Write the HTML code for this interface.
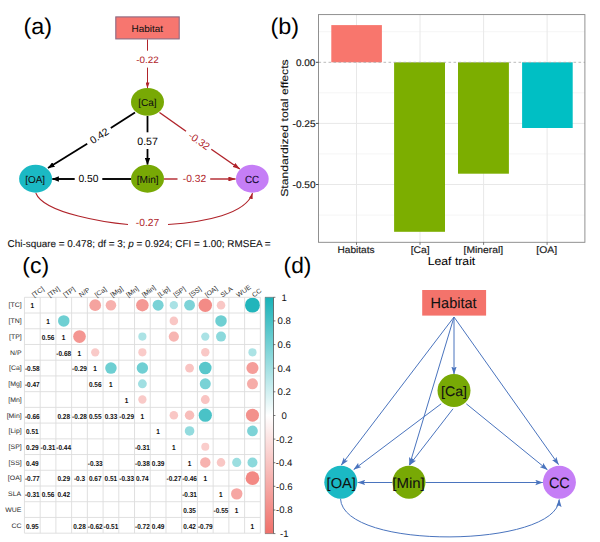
<!DOCTYPE html><html><head><meta charset="utf-8"><style>html,body{margin:0;padding:0;background:#fff;overflow:hidden}svg{display:block}text{font-family:"Liberation Sans",sans-serif;text-rendering:geometricPrecision}</style></head><body>
<svg width="600" height="542" viewBox="0 0 600 542">
<defs><marker id="mk" markerWidth="7" markerHeight="5.4" refX="6.6" refY="2.7" orient="auto" markerUnits="userSpaceOnUse"><path d="M0,0 L7,2.7 L0,5.4 z" fill="#000"/></marker><marker id="mr" markerWidth="7.5" markerHeight="4.8" refX="7.1" refY="2.4" orient="auto" markerUnits="userSpaceOnUse"><path d="M0,0 L7.5,2.4 L0,4.8 z" fill="#B0232A"/></marker><marker id="mr2" markerWidth="6" markerHeight="4" refX="5.8" refY="2" orient="auto" markerUnits="userSpaceOnUse"><path d="M0,0 L6,2 L0,4 z" fill="#B0232A"/></marker><marker id="mb" markerWidth="8" markerHeight="6" refX="7.5" refY="3" orient="auto" markerUnits="userSpaceOnUse"><path d="M0,0.3 L8,3 L0,5.7 L1.6,3 z" fill="#4A74BE"/></marker><linearGradient id="cb" x1="0" y1="0" x2="0" y2="1"><stop offset="0" stop-color="#19B2B8"/><stop offset="0.5" stop-color="#FFFFFF"/><stop offset="1" stop-color="#F0706A"/></linearGradient></defs>
<text x="23.55" y="34.29" font-size="22.64" fill="#000" stroke="#000" stroke-width="0" textLength="28.61" lengthAdjust="spacingAndGlyphs">(a)</text>
<rect x="115.8" y="16.9" width="63.4" height="22" fill="#F7766F" stroke="#8C6A82" stroke-width="1.1"/>
<text x="131.58" y="31.70" font-size="9.67" fill="#111" stroke="#111" stroke-width="0.05" textLength="31.50" lengthAdjust="spacingAndGlyphs">Habitat</text>
<line x1="147.5" y1="39.5" x2="147.5" y2="50.7" stroke="#B0232A" stroke-width="1"/>
<line x1="147.5" y1="67.6" x2="147.5" y2="88.2" stroke="#B0232A" stroke-width="1" marker-end="url(#mr2)"/>
<text x="136.17" y="63.31" font-size="9.32" fill="#B0242A" stroke="#B0242A" stroke-width="0" textLength="22.52" lengthAdjust="spacingAndGlyphs">-0.22</text>
<line x1="135" y1="112.5" x2="110.8" y2="128" stroke="#000" stroke-width="1.8"/>
<line x1="87.2" y1="143.8" x2="48" y2="168" stroke="#000" stroke-width="1.8" marker-end="url(#mk)"/>
<text x="-9.97" y="3.54" font-size="10.30" fill="#000" stroke="#000" stroke-width="0" textLength="20.05" lengthAdjust="spacingAndGlyphs" transform="translate(99.20,135.80) rotate(-32.5)">0.42</text>
<line x1="147.5" y1="116" x2="147.5" y2="132.3" stroke="#000" stroke-width="1.8"/>
<line x1="147.5" y1="149" x2="147.5" y2="164.6" stroke="#000" stroke-width="1.8" marker-end="url(#mk)"/>
<text x="-10.26" y="3.65" font-size="10.60" fill="#000" stroke="#000" stroke-width="0" textLength="20.63" lengthAdjust="spacingAndGlyphs" transform="translate(147.50,141.00) rotate(0)">0.57</text>
<line x1="131" y1="179" x2="102.3" y2="179" stroke="#000" stroke-width="1.9"/>
<line x1="74.7" y1="179" x2="52.3" y2="179" stroke="#000" stroke-width="1.9" marker-end="url(#mk)"/>
<text x="-10.03" y="3.54" font-size="10.30" fill="#000" stroke="#000" stroke-width="0" textLength="20.05" lengthAdjust="spacingAndGlyphs" transform="translate(88.40,178.60) rotate(0)">0.50</text>
<line x1="159.5" y1="112.5" x2="186" y2="131.2" stroke="#B0232A" stroke-width="1.4"/>
<line x1="211.3" y1="149.2" x2="239.8" y2="169" stroke="#B0232A" stroke-width="1.4" marker-end="url(#mr)"/>
<text x="-11.71" y="3.54" font-size="10.30" fill="#B0242A" stroke="#B0242A" stroke-width="0" textLength="23.48" lengthAdjust="spacingAndGlyphs" transform="translate(199.20,141.00) rotate(35)">-0.32</text>
<line x1="164" y1="179" x2="177.5" y2="179" stroke="#B0232A" stroke-width="1.4"/>
<line x1="210.2" y1="179" x2="235.5" y2="179" stroke="#B0232A" stroke-width="1.4" marker-end="url(#mr)"/>
<text x="-11.71" y="3.54" font-size="10.30" fill="#B0242A" stroke="#B0242A" stroke-width="0" textLength="23.48" lengthAdjust="spacingAndGlyphs" transform="translate(194.40,178.40) rotate(0)">-0.32</text>
<path d="M35.8,193 C44,214 110,223 128,224.5" fill="none" stroke="#B0232A" stroke-width="1.1"/>
<path d="M168,224.5 C205,222 246,214 252.5,193.2" fill="none" stroke="#B0232A" stroke-width="1.1" marker-end="url(#mr2)"/>
<text x="-11.71" y="3.54" font-size="10.30" fill="#B0242A" stroke="#B0242A" stroke-width="0" textLength="23.48" lengthAdjust="spacingAndGlyphs" transform="translate(147.50,222.30) rotate(0)">-0.27</text>
<ellipse cx="147.5" cy="101.9" rx="16.5" ry="13.9" fill="#78A905"/>
<text x="138.18" y="105.80" font-size="10.09" fill="#111" stroke="#111" stroke-width="0.05" textLength="18.45" lengthAdjust="spacingAndGlyphs">[Ca]</text>
<ellipse cx="35.6" cy="178.75" rx="16.5" ry="13.9" fill="#1BB9C4"/>
<text x="25.18" y="182.66" font-size="10.03" fill="#111" stroke="#111" stroke-width="0.05" textLength="19.94" lengthAdjust="spacingAndGlyphs">[OA]</text>
<ellipse cx="147.5" cy="178.75" rx="16.5" ry="13.9" fill="#78A905"/>
<text x="136.67" y="182.66" font-size="10.03" fill="#111" stroke="#111" stroke-width="0.05" textLength="21.95" lengthAdjust="spacingAndGlyphs">[Min]</text>
<ellipse cx="252.3" cy="178.75" rx="16.4" ry="13.9" fill="#C57EF6"/>
<text x="244.90" y="182.66" font-size="10.40" fill="#1A0E3A" stroke="#1A0E3A" stroke-width="0.18" textLength="14.38" lengthAdjust="spacingAndGlyphs">CC</text>
<text x="7.6" y="246.5" font-size="9.9" fill="#111" stroke="#111" stroke-width="0.1" textLength="263" lengthAdjust="spacingAndGlyphs">Chi-square = 0.478; df = 3; <tspan font-style="italic">p</tspan> = 0.924; CFI = 1.00; RMSEA =</text>
<text x="270.55" y="34.29" font-size="22.64" fill="#000" stroke="#000" stroke-width="0" textLength="28.61" lengthAdjust="spacingAndGlyphs">(b)</text>
<line x1="318.5" y1="31.7" x2="584.9" y2="31.7" stroke="#F2F2F2" stroke-width="0.8"/>
<line x1="318.5" y1="92.8" x2="584.9" y2="92.8" stroke="#F2F2F2" stroke-width="0.8"/>
<line x1="318.5" y1="153.9" x2="584.9" y2="153.9" stroke="#F2F2F2" stroke-width="0.8"/>
<line x1="318.5" y1="215.1" x2="584.9" y2="215.1" stroke="#F2F2F2" stroke-width="0.8"/>
<line x1="318.5" y1="123.4" x2="584.9" y2="123.4" stroke="#E8E8E8" stroke-width="1"/>
<line x1="318.5" y1="184.5" x2="584.9" y2="184.5" stroke="#E8E8E8" stroke-width="1"/>
<line x1="356.5" y1="14.6" x2="356.5" y2="242.3" stroke="#E8E8E8" stroke-width="1"/>
<line x1="420.0" y1="14.6" x2="420.0" y2="242.3" stroke="#E8E8E8" stroke-width="1"/>
<line x1="483.6" y1="14.6" x2="483.6" y2="242.3" stroke="#E8E8E8" stroke-width="1"/>
<line x1="547.1" y1="14.6" x2="547.1" y2="242.3" stroke="#E8E8E8" stroke-width="1"/>
<rect x="331.3" y="25.1" width="50.6" height="37.2" fill="#F8766D"/>
<rect x="394.1" y="62.3" width="50.9" height="169.5" fill="#7CAE00"/>
<rect x="458.0" y="62.3" width="50.9" height="111.4" fill="#7CAE00"/>
<rect x="522.1" y="62.3" width="50.6" height="65.7" fill="#00BFC4"/>
<line x1="318.5" y1="62.3" x2="584.9" y2="62.3" stroke="#A8A8A8" stroke-width="0.8" stroke-dasharray="2.6,2.4"/>
<rect x="318.5" y="14.6" width="266.4" height="227.7" fill="none" stroke="#858585" stroke-width="0.9"/>
<line x1="315.9" y1="62.3" x2="318.5" y2="62.3" stroke="#333" stroke-width="0.9"/>
<text x="296.00" y="65.60" font-size="9.60" fill="#1a1a1a" stroke="#1a1a1a" stroke-width="0.18" textLength="19.38" lengthAdjust="spacingAndGlyphs">0.00</text>
<line x1="315.9" y1="123.4" x2="318.5" y2="123.4" stroke="#333" stroke-width="0.9"/>
<text x="292.55" y="126.70" font-size="9.60" fill="#1a1a1a" stroke="#1a1a1a" stroke-width="0.18" textLength="23.06" lengthAdjust="spacingAndGlyphs">-0.25</text>
<line x1="315.9" y1="184.5" x2="318.5" y2="184.5" stroke="#333" stroke-width="0.9"/>
<text x="292.56" y="187.80" font-size="9.60" fill="#1a1a1a" stroke="#1a1a1a" stroke-width="0.18" textLength="23.02" lengthAdjust="spacingAndGlyphs">-0.50</text>
<line x1="356.5" y1="242.3" x2="356.5" y2="244.9" stroke="#555" stroke-width="0.8"/>
<text x="337.47" y="252.60" font-size="9.60" fill="#1a1a1a" stroke="#1a1a1a" stroke-width="0.18" textLength="37.10" lengthAdjust="spacingAndGlyphs">Habitats</text>
<line x1="420.0" y1="242.3" x2="420.0" y2="244.9" stroke="#555" stroke-width="0.8"/>
<text x="410.75" y="252.60" font-size="9.60" fill="#1a1a1a" stroke="#1a1a1a" stroke-width="0.18" textLength="18.99" lengthAdjust="spacingAndGlyphs">[Ca]</text>
<line x1="483.6" y1="242.3" x2="483.6" y2="244.9" stroke="#555" stroke-width="0.8"/>
<text x="463.56" y="252.60" font-size="9.60" fill="#1a1a1a" stroke="#1a1a1a" stroke-width="0.18" textLength="39.49" lengthAdjust="spacingAndGlyphs">[Mineral]</text>
<line x1="547.1" y1="242.3" x2="547.1" y2="244.9" stroke="#555" stroke-width="0.8"/>
<text x="536.36" y="252.60" font-size="9.60" fill="#1a1a1a" stroke="#1a1a1a" stroke-width="0.18" textLength="20.70" lengthAdjust="spacingAndGlyphs">[OA]</text>
<text x="427.70" y="264.90" font-size="11.46" fill="#000" stroke="#000" stroke-width="0.05" textLength="47.59" lengthAdjust="spacingAndGlyphs">Leaf trait</text>
<g transform="translate(288.1,196.8) rotate(-90)">
<text x="0" y="0" font-size="10.1" fill="#111" stroke="#111" stroke-width="0.12" textLength="137.5" lengthAdjust="spacingAndGlyphs">Standardized total effects</text>
</g>
<text x="22.27" y="273.08" font-size="22.21" fill="#000" stroke="#000" stroke-width="0" textLength="26.86" lengthAdjust="spacingAndGlyphs">(c)</text>
<circle cx="95.21" cy="305.16" r="5.86" fill="#F5A39F"/>
<circle cx="110.94" cy="305.16" r="5.28" fill="#F7B1AE"/>
<circle cx="142.39" cy="305.16" r="6.26" fill="#F49894"/>
<circle cx="158.11" cy="305.16" r="5.50" fill="#79D2D6"/>
<circle cx="173.84" cy="305.16" r="4.15" fill="#AAE2E5"/>
<circle cx="189.56" cy="305.16" r="5.39" fill="#7DD3D7"/>
<circle cx="205.29" cy="305.16" r="6.76" fill="#F38B86"/>
<circle cx="221.01" cy="305.16" r="4.29" fill="#F9C7C5"/>
<circle cx="252.46" cy="305.16" r="7.51" fill="#22B5BB"/>
<circle cx="63.76" cy="320.89" r="5.76" fill="#6ECFD2"/>
<circle cx="173.84" cy="320.89" r="4.29" fill="#F9C7C5"/>
<circle cx="221.01" cy="320.89" r="5.76" fill="#6ECFD2"/>
<circle cx="79.49" cy="336.61" r="6.35" fill="#F49692"/>
<circle cx="142.39" cy="336.61" r="4.07" fill="#ACE3E5"/>
<circle cx="173.84" cy="336.61" r="5.11" fill="#F7B5B2"/>
<circle cx="205.29" cy="336.61" r="4.15" fill="#AAE2E5"/>
<circle cx="221.01" cy="336.61" r="4.99" fill="#8CD9DC"/>
<circle cx="95.21" cy="352.34" r="4.15" fill="#F9CAC8"/>
<circle cx="142.39" cy="352.34" r="4.07" fill="#FACBC9"/>
<circle cx="205.29" cy="352.34" r="4.22" fill="#F9C8C6"/>
<circle cx="252.46" cy="352.34" r="4.07" fill="#ACE3E5"/>
<circle cx="110.94" cy="368.06" r="5.76" fill="#6ECFD2"/>
<circle cx="142.39" cy="368.06" r="5.71" fill="#70CFD3"/>
<circle cx="189.56" cy="368.06" r="4.42" fill="#F9C4C2"/>
<circle cx="205.29" cy="368.06" r="6.30" fill="#58C7CB"/>
<circle cx="252.46" cy="368.06" r="6.06" fill="#F59D99"/>
<circle cx="142.39" cy="383.79" r="4.42" fill="#A0DFE2"/>
<circle cx="205.29" cy="383.79" r="5.50" fill="#79D2D6"/>
<circle cx="252.46" cy="383.79" r="5.50" fill="#F6ACA8"/>
<circle cx="142.39" cy="399.51" r="4.15" fill="#F9CAC8"/>
<circle cx="205.29" cy="399.51" r="4.42" fill="#F9C4C2"/>
<circle cx="173.84" cy="415.24" r="4.29" fill="#F9C7C5"/>
<circle cx="189.56" cy="415.24" r="4.75" fill="#F8BDBA"/>
<circle cx="205.29" cy="415.24" r="6.62" fill="#4AC2C7"/>
<circle cx="252.46" cy="415.24" r="6.53" fill="#F3918C"/>
<circle cx="189.56" cy="430.96" r="4.81" fill="#93DBDE"/>
<circle cx="252.46" cy="430.96" r="5.39" fill="#7DD3D7"/>
<circle cx="205.29" cy="446.69" r="4.00" fill="#FACDCB"/>
<circle cx="205.29" cy="462.41" r="5.22" fill="#F7B2AF"/>
<circle cx="221.01" cy="462.41" r="4.29" fill="#F9C7C5"/>
<circle cx="236.74" cy="462.41" r="4.56" fill="#9CDEE0"/>
<circle cx="252.46" cy="462.41" r="4.99" fill="#8CD9DC"/>
<circle cx="252.46" cy="478.14" r="6.84" fill="#F38984"/>
<circle cx="236.74" cy="493.86" r="5.71" fill="#F6A6A3"/>
<path d="M24.45,297.3V533.17M24.45,297.30H260.32M40.17,297.3V533.17M24.45,313.03H260.32M55.90,297.3V533.17M24.45,328.75H260.32M71.62,297.3V533.17M24.45,344.48H260.32M87.35,297.3V533.17M24.45,360.20H260.32M103.08,297.3V533.17M24.45,375.93H260.32M118.80,297.3V533.17M24.45,391.65H260.32M134.53,297.3V533.17M24.45,407.38H260.32M150.25,297.3V533.17M24.45,423.10H260.32M165.97,297.3V533.17M24.45,438.83H260.32M181.70,297.3V533.17M24.45,454.55H260.32M197.42,297.3V533.17M24.45,470.27H260.32M213.15,297.3V533.17M24.45,486.00H260.32M228.87,297.3V533.17M24.45,501.73H260.32M244.60,297.3V533.17M24.45,517.45H260.32M260.32,297.3V533.17M24.45,533.17H260.32" stroke="#DDDDDD" stroke-width="0.9" fill="none"/>
<text x="-1.91" y="2.48" font-size="7.20" font-weight="bold" fill="#111" stroke="#111" stroke-width="0" textLength="3.60" lengthAdjust="spacingAndGlyphs" transform="translate(32.31,305.96) rotate(0)">1</text>
<text x="-1.91" y="2.48" font-size="7.20" font-weight="bold" fill="#111" stroke="#111" stroke-width="0" textLength="3.60" lengthAdjust="spacingAndGlyphs" transform="translate(48.04,321.69) rotate(0)">1</text>
<text x="-6.32" y="2.48" font-size="7.20" font-weight="bold" fill="#111" stroke="#111" stroke-width="0" textLength="12.61" lengthAdjust="spacingAndGlyphs" transform="translate(48.04,337.41) rotate(0)">0.56</text>
<text x="-1.91" y="2.48" font-size="7.20" font-weight="bold" fill="#111" stroke="#111" stroke-width="0" textLength="3.60" lengthAdjust="spacingAndGlyphs" transform="translate(63.76,337.41) rotate(0)">1</text>
<text x="-7.42" y="2.48" font-size="7.20" font-weight="bold" fill="#111" stroke="#111" stroke-width="0" textLength="14.77" lengthAdjust="spacingAndGlyphs" transform="translate(63.76,353.14) rotate(0)">-0.68</text>
<text x="-1.91" y="2.48" font-size="7.20" font-weight="bold" fill="#111" stroke="#111" stroke-width="0" textLength="3.60" lengthAdjust="spacingAndGlyphs" transform="translate(79.49,353.14) rotate(0)">1</text>
<text x="-7.42" y="2.48" font-size="7.20" font-weight="bold" fill="#111" stroke="#111" stroke-width="0" textLength="14.77" lengthAdjust="spacingAndGlyphs" transform="translate(32.31,368.86) rotate(0)">-0.58</text>
<text x="-7.40" y="2.48" font-size="7.20" font-weight="bold" fill="#111" stroke="#111" stroke-width="0" textLength="14.77" lengthAdjust="spacingAndGlyphs" transform="translate(79.49,368.86) rotate(0)">-0.29</text>
<text x="-1.91" y="2.48" font-size="7.20" font-weight="bold" fill="#111" stroke="#111" stroke-width="0" textLength="3.60" lengthAdjust="spacingAndGlyphs" transform="translate(95.21,368.86) rotate(0)">1</text>
<text x="-7.37" y="2.48" font-size="7.20" font-weight="bold" fill="#111" stroke="#111" stroke-width="0" textLength="14.77" lengthAdjust="spacingAndGlyphs" transform="translate(32.31,384.59) rotate(0)">-0.47</text>
<text x="-6.32" y="2.48" font-size="7.20" font-weight="bold" fill="#111" stroke="#111" stroke-width="0" textLength="12.61" lengthAdjust="spacingAndGlyphs" transform="translate(95.21,384.59) rotate(0)">0.56</text>
<text x="-1.91" y="2.48" font-size="7.20" font-weight="bold" fill="#111" stroke="#111" stroke-width="0" textLength="3.60" lengthAdjust="spacingAndGlyphs" transform="translate(110.94,384.59) rotate(0)">1</text>
<text x="-1.91" y="2.48" font-size="7.20" font-weight="bold" fill="#111" stroke="#111" stroke-width="0" textLength="3.60" lengthAdjust="spacingAndGlyphs" transform="translate(126.66,400.31) rotate(0)">1</text>
<text x="-7.40" y="2.48" font-size="7.20" font-weight="bold" fill="#111" stroke="#111" stroke-width="0" textLength="14.77" lengthAdjust="spacingAndGlyphs" transform="translate(32.31,416.04) rotate(0)">-0.66</text>
<text x="-6.34" y="2.48" font-size="7.20" font-weight="bold" fill="#111" stroke="#111" stroke-width="0" textLength="12.61" lengthAdjust="spacingAndGlyphs" transform="translate(63.76,416.04) rotate(0)">0.28</text>
<text x="-7.42" y="2.48" font-size="7.20" font-weight="bold" fill="#111" stroke="#111" stroke-width="0" textLength="14.77" lengthAdjust="spacingAndGlyphs" transform="translate(79.49,416.04) rotate(0)">-0.28</text>
<text x="-6.34" y="2.48" font-size="7.20" font-weight="bold" fill="#111" stroke="#111" stroke-width="0" textLength="12.61" lengthAdjust="spacingAndGlyphs" transform="translate(95.21,416.04) rotate(0)">0.55</text>
<text x="-6.32" y="2.47" font-size="7.20" font-weight="bold" fill="#111" stroke="#111" stroke-width="0" textLength="12.61" lengthAdjust="spacingAndGlyphs" transform="translate(110.94,416.04) rotate(0)">0.33</text>
<text x="-7.40" y="2.48" font-size="7.20" font-weight="bold" fill="#111" stroke="#111" stroke-width="0" textLength="14.77" lengthAdjust="spacingAndGlyphs" transform="translate(126.66,416.04) rotate(0)">-0.29</text>
<text x="-1.91" y="2.48" font-size="7.20" font-weight="bold" fill="#111" stroke="#111" stroke-width="0" textLength="3.60" lengthAdjust="spacingAndGlyphs" transform="translate(142.39,416.04) rotate(0)">1</text>
<text x="-6.34" y="2.48" font-size="7.20" font-weight="bold" fill="#111" stroke="#111" stroke-width="0" textLength="12.61" lengthAdjust="spacingAndGlyphs" transform="translate(32.31,431.76) rotate(0)">0.51</text>
<text x="-1.91" y="2.48" font-size="7.20" font-weight="bold" fill="#111" stroke="#111" stroke-width="0" textLength="3.60" lengthAdjust="spacingAndGlyphs" transform="translate(158.11,431.76) rotate(0)">1</text>
<text x="-6.32" y="2.48" font-size="7.20" font-weight="bold" fill="#111" stroke="#111" stroke-width="0" textLength="12.61" lengthAdjust="spacingAndGlyphs" transform="translate(32.31,447.49) rotate(0)">0.29</text>
<text x="-7.43" y="2.47" font-size="7.20" font-weight="bold" fill="#111" stroke="#111" stroke-width="0" textLength="14.77" lengthAdjust="spacingAndGlyphs" transform="translate(48.04,447.49) rotate(0)">-0.31</text>
<text x="-7.50" y="2.48" font-size="7.20" font-weight="bold" fill="#111" stroke="#111" stroke-width="0" textLength="14.77" lengthAdjust="spacingAndGlyphs" transform="translate(63.76,447.49) rotate(0)">-0.44</text>
<text x="-7.43" y="2.47" font-size="7.20" font-weight="bold" fill="#111" stroke="#111" stroke-width="0" textLength="14.77" lengthAdjust="spacingAndGlyphs" transform="translate(142.39,447.49) rotate(0)">-0.31</text>
<text x="-1.91" y="2.48" font-size="7.20" font-weight="bold" fill="#111" stroke="#111" stroke-width="0" textLength="3.60" lengthAdjust="spacingAndGlyphs" transform="translate(173.84,447.49) rotate(0)">1</text>
<text x="-6.32" y="2.48" font-size="7.20" font-weight="bold" fill="#111" stroke="#111" stroke-width="0" textLength="12.61" lengthAdjust="spacingAndGlyphs" transform="translate(32.31,463.21) rotate(0)">0.49</text>
<text x="-7.40" y="2.47" font-size="7.20" font-weight="bold" fill="#111" stroke="#111" stroke-width="0" textLength="14.77" lengthAdjust="spacingAndGlyphs" transform="translate(95.21,463.21) rotate(0)">-0.33</text>
<text x="-7.42" y="2.47" font-size="7.20" font-weight="bold" fill="#111" stroke="#111" stroke-width="0" textLength="14.77" lengthAdjust="spacingAndGlyphs" transform="translate(142.39,463.21) rotate(0)">-0.38</text>
<text x="-6.32" y="2.47" font-size="7.20" font-weight="bold" fill="#111" stroke="#111" stroke-width="0" textLength="12.61" lengthAdjust="spacingAndGlyphs" transform="translate(158.11,463.21) rotate(0)">0.39</text>
<text x="-1.91" y="2.48" font-size="7.20" font-weight="bold" fill="#111" stroke="#111" stroke-width="0" textLength="3.60" lengthAdjust="spacingAndGlyphs" transform="translate(189.56,463.21) rotate(0)">1</text>
<text x="-7.37" y="2.48" font-size="7.20" font-weight="bold" fill="#111" stroke="#111" stroke-width="0" textLength="14.77" lengthAdjust="spacingAndGlyphs" transform="translate(32.31,478.94) rotate(0)">-0.77</text>
<text x="-6.32" y="2.48" font-size="7.20" font-weight="bold" fill="#111" stroke="#111" stroke-width="0" textLength="12.61" lengthAdjust="spacingAndGlyphs" transform="translate(63.76,478.94) rotate(0)">0.29</text>
<text x="-5.60" y="2.47" font-size="7.20" font-weight="bold" fill="#111" stroke="#111" stroke-width="0" textLength="11.17" lengthAdjust="spacingAndGlyphs" transform="translate(79.49,478.94) rotate(0)">-0.3</text>
<text x="-6.29" y="2.48" font-size="7.20" font-weight="bold" fill="#111" stroke="#111" stroke-width="0" textLength="12.61" lengthAdjust="spacingAndGlyphs" transform="translate(95.21,478.94) rotate(0)">0.67</text>
<text x="-6.34" y="2.48" font-size="7.20" font-weight="bold" fill="#111" stroke="#111" stroke-width="0" textLength="12.61" lengthAdjust="spacingAndGlyphs" transform="translate(110.94,478.94) rotate(0)">0.51</text>
<text x="-7.40" y="2.47" font-size="7.20" font-weight="bold" fill="#111" stroke="#111" stroke-width="0" textLength="14.77" lengthAdjust="spacingAndGlyphs" transform="translate(126.66,478.94) rotate(0)">-0.33</text>
<text x="-6.42" y="2.48" font-size="7.20" font-weight="bold" fill="#111" stroke="#111" stroke-width="0" textLength="12.61" lengthAdjust="spacingAndGlyphs" transform="translate(142.39,478.94) rotate(0)">0.74</text>
<text x="-7.37" y="2.48" font-size="7.20" font-weight="bold" fill="#111" stroke="#111" stroke-width="0" textLength="14.77" lengthAdjust="spacingAndGlyphs" transform="translate(173.84,478.94) rotate(0)">-0.27</text>
<text x="-7.40" y="2.48" font-size="7.20" font-weight="bold" fill="#111" stroke="#111" stroke-width="0" textLength="14.77" lengthAdjust="spacingAndGlyphs" transform="translate(189.56,478.94) rotate(0)">-0.46</text>
<text x="-1.91" y="2.48" font-size="7.20" font-weight="bold" fill="#111" stroke="#111" stroke-width="0" textLength="3.60" lengthAdjust="spacingAndGlyphs" transform="translate(205.29,478.94) rotate(0)">1</text>
<text x="-7.43" y="2.47" font-size="7.20" font-weight="bold" fill="#111" stroke="#111" stroke-width="0" textLength="14.77" lengthAdjust="spacingAndGlyphs" transform="translate(32.31,494.66) rotate(0)">-0.31</text>
<text x="-6.32" y="2.48" font-size="7.20" font-weight="bold" fill="#111" stroke="#111" stroke-width="0" textLength="12.61" lengthAdjust="spacingAndGlyphs" transform="translate(48.04,494.66) rotate(0)">0.56</text>
<text x="-6.31" y="2.48" font-size="7.20" font-weight="bold" fill="#111" stroke="#111" stroke-width="0" textLength="12.61" lengthAdjust="spacingAndGlyphs" transform="translate(63.76,494.66) rotate(0)">0.42</text>
<text x="-7.43" y="2.47" font-size="7.20" font-weight="bold" fill="#111" stroke="#111" stroke-width="0" textLength="14.77" lengthAdjust="spacingAndGlyphs" transform="translate(189.56,494.66) rotate(0)">-0.31</text>
<text x="-1.91" y="2.48" font-size="7.20" font-weight="bold" fill="#111" stroke="#111" stroke-width="0" textLength="3.60" lengthAdjust="spacingAndGlyphs" transform="translate(221.01,494.66) rotate(0)">1</text>
<text x="-6.34" y="2.47" font-size="7.20" font-weight="bold" fill="#111" stroke="#111" stroke-width="0" textLength="12.61" lengthAdjust="spacingAndGlyphs" transform="translate(189.56,510.39) rotate(0)">0.35</text>
<text x="-7.43" y="2.48" font-size="7.20" font-weight="bold" fill="#111" stroke="#111" stroke-width="0" textLength="14.77" lengthAdjust="spacingAndGlyphs" transform="translate(221.01,510.39) rotate(0)">-0.55</text>
<text x="-1.91" y="2.48" font-size="7.20" font-weight="bold" fill="#111" stroke="#111" stroke-width="0" textLength="3.60" lengthAdjust="spacingAndGlyphs" transform="translate(236.74,510.39) rotate(0)">1</text>
<text x="-6.34" y="2.48" font-size="7.20" font-weight="bold" fill="#111" stroke="#111" stroke-width="0" textLength="12.61" lengthAdjust="spacingAndGlyphs" transform="translate(32.31,526.11) rotate(0)">0.95</text>
<text x="-6.34" y="2.48" font-size="7.20" font-weight="bold" fill="#111" stroke="#111" stroke-width="0" textLength="12.61" lengthAdjust="spacingAndGlyphs" transform="translate(79.49,526.11) rotate(0)">0.28</text>
<text x="-7.39" y="2.48" font-size="7.20" font-weight="bold" fill="#111" stroke="#111" stroke-width="0" textLength="14.77" lengthAdjust="spacingAndGlyphs" transform="translate(95.21,526.11) rotate(0)">-0.62</text>
<text x="-7.43" y="2.48" font-size="7.20" font-weight="bold" fill="#111" stroke="#111" stroke-width="0" textLength="14.77" lengthAdjust="spacingAndGlyphs" transform="translate(110.94,526.11) rotate(0)">-0.51</text>
<text x="-7.39" y="2.48" font-size="7.20" font-weight="bold" fill="#111" stroke="#111" stroke-width="0" textLength="14.77" lengthAdjust="spacingAndGlyphs" transform="translate(142.39,526.11) rotate(0)">-0.72</text>
<text x="-6.32" y="2.48" font-size="7.20" font-weight="bold" fill="#111" stroke="#111" stroke-width="0" textLength="12.61" lengthAdjust="spacingAndGlyphs" transform="translate(158.11,526.11) rotate(0)">0.49</text>
<text x="-6.31" y="2.48" font-size="7.20" font-weight="bold" fill="#111" stroke="#111" stroke-width="0" textLength="12.61" lengthAdjust="spacingAndGlyphs" transform="translate(189.56,526.11) rotate(0)">0.42</text>
<text x="-7.40" y="2.48" font-size="7.20" font-weight="bold" fill="#111" stroke="#111" stroke-width="0" textLength="14.77" lengthAdjust="spacingAndGlyphs" transform="translate(205.29,526.11) rotate(0)">-0.79</text>
<text x="-1.91" y="2.48" font-size="7.20" font-weight="bold" fill="#111" stroke="#111" stroke-width="0" textLength="3.60" lengthAdjust="spacingAndGlyphs" transform="translate(252.46,526.11) rotate(0)">1</text>
<text x="8.62" y="307.46" font-size="6.6" fill="#2a2a2a" textLength="13.09" lengthAdjust="spacingAndGlyphs">[TC]</text>
<text x="0" y="0" font-size="6.6" fill="#2a2a2a" textLength="13.09" lengthAdjust="spacingAndGlyphs" transform="translate(33.91,297.50) rotate(-36)">[TC]</text>
<text x="8.62" y="323.19" font-size="6.6" fill="#2a2a2a" textLength="13.09" lengthAdjust="spacingAndGlyphs">[TN]</text>
<text x="0" y="0" font-size="6.6" fill="#2a2a2a" textLength="13.09" lengthAdjust="spacingAndGlyphs" transform="translate(49.64,297.50) rotate(-36)">[TN]</text>
<text x="8.99" y="338.91" font-size="6.6" fill="#2a2a2a" textLength="12.71" lengthAdjust="spacingAndGlyphs">[TP]</text>
<text x="0" y="0" font-size="6.6" fill="#2a2a2a" textLength="12.71" lengthAdjust="spacingAndGlyphs" transform="translate(65.36,297.50) rotate(-36)">[TP]</text>
<text x="10.01" y="354.64" font-size="6.6" fill="#2a2a2a" textLength="11.55" lengthAdjust="spacingAndGlyphs">N/P</text>
<text x="0" y="0" font-size="6.6" fill="#2a2a2a" textLength="11.55" lengthAdjust="spacingAndGlyphs" transform="translate(81.09,297.50) rotate(-36)">N/P</text>
<text x="8.99" y="370.36" font-size="6.6" fill="#2a2a2a" textLength="12.71" lengthAdjust="spacingAndGlyphs">[Ca]</text>
<text x="0" y="0" font-size="6.6" fill="#2a2a2a" textLength="12.71" lengthAdjust="spacingAndGlyphs" transform="translate(96.81,297.50) rotate(-36)">[Ca]</text>
<text x="8.21" y="386.09" font-size="6.6" fill="#2a2a2a" textLength="13.48" lengthAdjust="spacingAndGlyphs">[Mg]</text>
<text x="0" y="0" font-size="6.6" fill="#2a2a2a" textLength="13.48" lengthAdjust="spacingAndGlyphs" transform="translate(112.54,297.50) rotate(-36)">[Mg]</text>
<text x="8.21" y="401.81" font-size="6.6" fill="#2a2a2a" textLength="13.48" lengthAdjust="spacingAndGlyphs">[Mn]</text>
<text x="0" y="0" font-size="6.6" fill="#2a2a2a" textLength="13.48" lengthAdjust="spacingAndGlyphs" transform="translate(128.26,297.50) rotate(-36)">[Mn]</text>
<text x="6.67" y="417.54" font-size="6.6" fill="#2a2a2a" textLength="15.02" lengthAdjust="spacingAndGlyphs">[Min]</text>
<text x="0" y="0" font-size="6.6" fill="#2a2a2a" textLength="15.02" lengthAdjust="spacingAndGlyphs" transform="translate(143.99,297.50) rotate(-36)">[Min]</text>
<text x="8.60" y="433.26" font-size="6.6" fill="#2a2a2a" textLength="13.10" lengthAdjust="spacingAndGlyphs">[Lip]</text>
<text x="0" y="0" font-size="6.6" fill="#2a2a2a" textLength="13.10" lengthAdjust="spacingAndGlyphs" transform="translate(159.71,297.50) rotate(-36)">[Lip]</text>
<text x="8.60" y="448.99" font-size="6.6" fill="#2a2a2a" textLength="13.10" lengthAdjust="spacingAndGlyphs">[SP]</text>
<text x="0" y="0" font-size="6.6" fill="#2a2a2a" textLength="13.10" lengthAdjust="spacingAndGlyphs" transform="translate(175.44,297.50) rotate(-36)">[SP]</text>
<text x="8.60" y="464.71" font-size="6.6" fill="#2a2a2a" textLength="13.10" lengthAdjust="spacingAndGlyphs">[SS]</text>
<text x="0" y="0" font-size="6.6" fill="#2a2a2a" textLength="13.10" lengthAdjust="spacingAndGlyphs" transform="translate(191.16,297.50) rotate(-36)">[SS]</text>
<text x="7.84" y="480.44" font-size="6.6" fill="#2a2a2a" textLength="13.86" lengthAdjust="spacingAndGlyphs">[OA]</text>
<text x="0" y="0" font-size="6.6" fill="#2a2a2a" textLength="13.86" lengthAdjust="spacingAndGlyphs" transform="translate(206.89,297.50) rotate(-36)">[OA]</text>
<text x="8.12" y="496.16" font-size="6.6" fill="#2a2a2a" textLength="13.10" lengthAdjust="spacingAndGlyphs">SLA</text>
<text x="0" y="0" font-size="6.6" fill="#2a2a2a" textLength="13.10" lengthAdjust="spacingAndGlyphs" transform="translate(222.61,297.50) rotate(-36)">SLA</text>
<text x="5.33" y="511.89" font-size="6.6" fill="#2a2a2a" textLength="16.17" lengthAdjust="spacingAndGlyphs">WUE</text>
<text x="0" y="0" font-size="6.6" fill="#2a2a2a" textLength="16.17" lengthAdjust="spacingAndGlyphs" transform="translate(238.34,297.50) rotate(-36)">WUE</text>
<text x="11.46" y="527.61" font-size="6.6" fill="#2a2a2a" textLength="10.01" lengthAdjust="spacingAndGlyphs">CC</text>
<text x="0" y="0" font-size="6.6" fill="#2a2a2a" textLength="10.01" lengthAdjust="spacingAndGlyphs" transform="translate(254.06,297.50) rotate(-36)">CC</text>
<rect x="265" y="297.3" width="8.5" height="236.3" fill="url(#cb)"/>
<line x1="265" y1="297.3" x2="265" y2="533.6" stroke="#9a9a9a" stroke-width="0.6"/>
<line x1="273.5" y1="297.3" x2="273.5" y2="533.6" stroke="#555" stroke-width="0.8"/>
<line x1="265" y1="297.3" x2="273.5" y2="297.3" stroke="#666" stroke-width="0.6"/>
<line x1="265" y1="533.6" x2="273.5" y2="533.6" stroke="#666" stroke-width="0.6"/>
<line x1="273.5" y1="297.3" x2="275.4" y2="297.3" stroke="#444" stroke-width="0.7"/>
<text x="-2.80" y="3.30" font-size="9.60" fill="#111" stroke="#111" stroke-width="0" textLength="5.34" lengthAdjust="spacingAndGlyphs" transform="translate(284.20,297.50) rotate(0)">1</text>
<line x1="273.5" y1="320.9" x2="275.4" y2="320.9" stroke="#444" stroke-width="0.7"/>
<text x="-6.65" y="3.30" font-size="9.60" fill="#111" stroke="#111" stroke-width="0" textLength="13.35" lengthAdjust="spacingAndGlyphs" transform="translate(284.20,321.13) rotate(0)">0.8</text>
<line x1="273.5" y1="344.6" x2="275.4" y2="344.6" stroke="#444" stroke-width="0.7"/>
<text x="-6.65" y="3.30" font-size="9.60" fill="#111" stroke="#111" stroke-width="0" textLength="13.35" lengthAdjust="spacingAndGlyphs" transform="translate(284.20,344.76) rotate(0)">0.6</text>
<line x1="273.5" y1="368.2" x2="275.4" y2="368.2" stroke="#444" stroke-width="0.7"/>
<text x="-6.72" y="3.30" font-size="9.60" fill="#111" stroke="#111" stroke-width="0" textLength="13.35" lengthAdjust="spacingAndGlyphs" transform="translate(284.20,368.39) rotate(0)">0.4</text>
<line x1="273.5" y1="391.8" x2="275.4" y2="391.8" stroke="#444" stroke-width="0.7"/>
<text x="-6.62" y="3.30" font-size="9.60" fill="#111" stroke="#111" stroke-width="0" textLength="13.35" lengthAdjust="spacingAndGlyphs" transform="translate(284.20,392.02) rotate(0)">0.2</text>
<line x1="273.5" y1="415.5" x2="275.4" y2="415.5" stroke="#444" stroke-width="0.7"/>
<text x="-2.68" y="3.30" font-size="9.60" fill="#111" stroke="#111" stroke-width="0" textLength="5.34" lengthAdjust="spacingAndGlyphs" transform="translate(284.20,415.65) rotate(0)">0</text>
<line x1="273.5" y1="439.1" x2="275.4" y2="439.1" stroke="#444" stroke-width="0.7"/>
<text x="-8.25" y="3.30" font-size="9.60" fill="#111" stroke="#111" stroke-width="0" textLength="16.54" lengthAdjust="spacingAndGlyphs" transform="translate(284.20,439.28) rotate(0)">-0.2</text>
<line x1="273.5" y1="462.7" x2="275.4" y2="462.7" stroke="#444" stroke-width="0.7"/>
<text x="-8.34" y="3.30" font-size="9.60" fill="#111" stroke="#111" stroke-width="0" textLength="16.54" lengthAdjust="spacingAndGlyphs" transform="translate(284.20,462.91) rotate(0)">-0.4</text>
<line x1="273.5" y1="486.3" x2="275.4" y2="486.3" stroke="#444" stroke-width="0.7"/>
<text x="-8.28" y="3.30" font-size="9.60" fill="#111" stroke="#111" stroke-width="0" textLength="16.54" lengthAdjust="spacingAndGlyphs" transform="translate(284.20,486.54) rotate(0)">-0.6</text>
<line x1="273.5" y1="510.0" x2="275.4" y2="510.0" stroke="#444" stroke-width="0.7"/>
<text x="-8.28" y="3.30" font-size="9.60" fill="#111" stroke="#111" stroke-width="0" textLength="16.54" lengthAdjust="spacingAndGlyphs" transform="translate(284.20,510.17) rotate(0)">-0.8</text>
<line x1="273.5" y1="533.6" x2="275.4" y2="533.6" stroke="#444" stroke-width="0.7"/>
<text x="-4.25" y="3.30" font-size="9.60" fill="#111" stroke="#111" stroke-width="0" textLength="8.54" lengthAdjust="spacingAndGlyphs" transform="translate(284.20,533.80) rotate(0)">-1</text>
<text x="283.59" y="273.01" font-size="22.53" fill="#000" stroke="#000" stroke-width="0" textLength="27.83" lengthAdjust="spacingAndGlyphs">(d)</text>
<rect x="422.2" y="290" width="63.9" height="25.6" fill="#F4736B"/>
<text x="430.61" y="308.40" font-size="14.91" fill="#111" stroke="#111" stroke-width="0.08" textLength="46.01" lengthAdjust="spacingAndGlyphs">Habitat</text>
<path d="M454,317 L454,374" fill="none" stroke="#4A74BE" stroke-width="1.0" marker-end="url(#mb)"/>
<path d="M454,317 L341.3,465" fill="none" stroke="#4A74BE" stroke-width="1.0" marker-end="url(#mb)"/>
<path d="M454,317 L409.5,465" fill="none" stroke="#4A74BE" stroke-width="1.0" marker-end="url(#mb)"/>
<path d="M454,317 L558.5,464.5" fill="none" stroke="#4A74BE" stroke-width="1.0" marker-end="url(#mb)"/>
<path d="M441.2,403.8 L353.8,469.5" fill="none" stroke="#4A74BE" stroke-width="1.0" marker-end="url(#mb)"/>
<path d="M453,408.8 L409.5,465" fill="none" stroke="#4A74BE" stroke-width="1.0" marker-end="url(#mb)"/>
<path d="M466.3,403.8 L547.3,469.7" fill="none" stroke="#4A74BE" stroke-width="1.0" marker-end="url(#mb)"/>
<path d="M392.4,482.5 L357.8,482.5" fill="none" stroke="#4A74BE" stroke-width="1.15" marker-end="url(#mb)"/>
<path d="M425.5,482.5 L542.8,482.5" fill="none" stroke="#4A74BE" stroke-width="1.15" marker-end="url(#mb)"/>
<path d="M340.5,498.7 C343,551 557,548 559.2,499.5" fill="none" stroke="#4A74BE" stroke-width="1.0" marker-end="url(#mb)"/>
<circle cx="454" cy="390.6" r="16.5" fill="#78A905"/>
<text x="440.98" y="395.92" font-size="13.84" fill="#111" stroke="#111" stroke-width="0.08" textLength="26.04" lengthAdjust="spacingAndGlyphs">[Ca]</text>
<circle cx="340.8" cy="482.2" r="16.5" fill="#1BB9C4"/>
<text x="326.64" y="488.01" font-size="14.38" fill="#111" stroke="#111" stroke-width="0.08" textLength="29.32" lengthAdjust="spacingAndGlyphs">[OA]</text>
<circle cx="409" cy="482.2" r="16.5" fill="#78A905"/>
<text x="392.32" y="488.01" font-size="14.38" fill="#111" stroke="#111" stroke-width="0.08" textLength="32.44" lengthAdjust="spacingAndGlyphs">[Min]</text>
<circle cx="559.4" cy="482.2" r="16.5" fill="#C57EF6"/>
<text x="548.88" y="487.79" font-size="14.89" fill="#111" stroke="#111" stroke-width="0.08" textLength="20.88" lengthAdjust="spacingAndGlyphs">CC</text>
</svg></body></html>
